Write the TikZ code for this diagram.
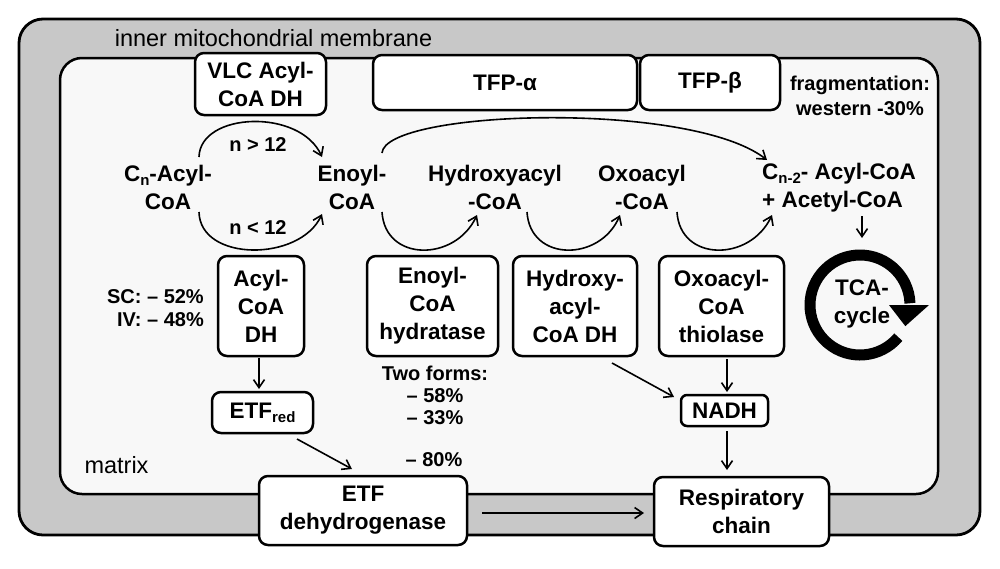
\documentclass[tikz,border=0pt]{standalone}
\usepackage{fontspec}
\setmainfont{Liberation Sans}
\usetikzlibrary{arrows.meta}
\definecolor{membr}{RGB}{200,200,200}
\definecolor{matrixbg}{RGB}{248,248,248}
\newcommand\sbs[1]{\raisebox{-0.35ex}{\fontsize{15}{15}\selectfont #1}}
\begin{document}
\begin{tikzpicture}[x=1pt,y=-1pt,
 lbl/.style={font=\bfseries\fontsize{22.5}{28}\selectfont, align=center, inner sep=0pt},
 note/.style={font=\bfseries\fontsize{20}{23}\selectfont, align=center, inner sep=0pt},
 plain/.style={font=\fontsize{23.5}{28}\selectfont, inner sep=0pt},
 box/.style={draw, line width=2.5pt, rounded corners=9pt, fill=white, align=center, inner sep=0pt, font=\bfseries\fontsize{22.5}{28}\selectfont},
 arr/.style={line width=1.6pt, -{Straight Barb[length=8pt,width=11pt]}},
]
\useasboundingbox (0,0) rectangle (1000,568);
\fill[white] (0,0) rectangle (1000,568);
% membrane and matrix
\draw[line width=2.8pt, fill=membr, rounded corners=24pt] (19,19) rectangle (980,535);
\draw[line width=2.5pt, fill=matrixbg, rounded corners=22pt] (60,58) rectangle (938,494);
\node[plain] (memb) at (273.5,38) {inner mitochondrial membrane};
\node[plain] (matrix) at (116.5,465) {matrix};

% top boxes
\node[box, minimum width=131pt, minimum height=62pt] (vlc) at (260.5,84) {VLC Acyl-\\CoA DH};
\node[box, minimum width=264pt, minimum height=55pt] (tfpa) at (505,82.5) {TFP-α};
\node[box, minimum width=140pt, minimum height=55pt] (tfpb) at (710,82.5) {TFP-β};
\node[note, font=\bfseries\fontsize{20}{25}\selectfont] (frag) at (860,96) {fragmentation:\\western -30\%};

% metabolites
\node[lbl] (cn) at (168,187.5) {C\sbs{n}-Acyl-\\CoA};
\node[lbl] (enoyl) at (352,187.5) {Enoyl-\\CoA};
\node[lbl] (hydroxy) at (495,187.5) {Hydroxyacyl\\-CoA};
\node[lbl] (oxo) at (642,187.5) {Oxoacyl\\-CoA};
\node[lbl, align=left, anchor=west] (cn2) at (762,187.5) {C\sbs{n-2}- Acyl-CoA\\+ Acetyl-CoA};
\node[note] (ngt) at (258,145) {n > 12};
\node[note] (nlt) at (258,228) {n < 12};

% arcs
\coordinate (t1s) at (199,157); \coordinate (t1e) at (322,157);
\coordinate (b1s) at (199,212); \coordinate (b1e) at (322,214);
\coordinate (bigs) at (382,153); \coordinate (bige) at (767,160);
\coordinate (s1s) at (382,212); \coordinate (s1e) at (477,215);
\coordinate (s2s) at (527,212); \coordinate (s2e) at (620,215);
\coordinate (s3s) at (677,212); \coordinate (s3e) at (772,215);
\draw[arr] (t1s) .. controls (200,112) and (300,108) .. (t1e);
\draw[arr] (b1s) .. controls (200,262) and (300,262) .. (b1e);
\draw[arr] (bigs) .. controls (385,110) and (690,100) .. (bige);
\draw[arr] (s1s) .. controls (385,262) and (455,262) .. (s1e);
\draw[arr] (s2s) .. controls (530,262) and (600,262) .. (s2e);
\draw[arr] (s3s) .. controls (680,262) and (750,262) .. (s3e);

% enzyme boxes
\node[box, minimum width=86pt, minimum height=100pt] (acyl) at (261,306) {Acyl-\\CoA\\DH};
\node[box, minimum width=131pt, minimum height=100pt] (hydr) at (432.5,306) {Enoyl-\\CoA\\hydratase};
\node[box, minimum width=124pt, minimum height=100pt] (hdh) at (575,306) {Hydroxy-\\acyl-\\CoA DH};
\node[box, minimum width=125pt, minimum height=100pt] (thio) at (721.5,306) {Oxoacyl-\\CoA\\thiolase};
\node[note, align=right, anchor=east] (scv) at (204,308.5) {SC: – 52\%\\IV: – 48\%};
\node[note, font=\bfseries\fontsize{20}{22}\selectfont] (twof) at (435,395) {Two forms:\\– 58\%\\– 33\%};
\node[note] (eighty) at (434,460) {– 80\%};

% TCA cycle
\begin{scope}[shift={(860,305)}, x=1pt, y=1pt]
 \draw[line width=11pt] (-40:50) arc[start angle=-40, end angle=-358, radius=50pt];
 \fill (29,0) -- (69,0) -- (-25:50) -- cycle;
\end{scope}
\node[lbl] (tca) at (862,304) {TCA-\\cycle};
\coordinate (cn2b) at (862,216); \coordinate (tcat) at (862,238);
\draw[arr] (cn2b) -- (tcat);

% lower boxes
\node[box, minimum width=101pt, minimum height=41pt] (etf) at (262.5,412.5) {ETF\sbs{red}};
\node[box, minimum width=87pt, minimum height=31pt, rounded corners=6pt] (nadh) at (724.5,410.5) {NADH};
\node[box, minimum width=208pt, minimum height=69pt] (etfdh) at (363,510.5) {ETF\\dehydrogenase};
\node[box, minimum width=175pt, minimum height=69pt] (resp) at (741.5,511.5) {Respiratory\\chain};

% straight connectors
\coordinate (a1) at (259,358); \coordinate (a2) at (259,389);
\draw[arr] (a1) -- (a2);
\coordinate (e1) at (297,439); \coordinate (e2) at (352,469);
\draw[arr] (e1) -- (e2);
\coordinate (r1) at (482,513); \coordinate (r2) at (644,513);
\draw[arr] (r1) -- (r2);
\coordinate (h1) at (612,363); \coordinate (h2) at (674,397);
\draw[arr] (h1) -- (h2);
\coordinate (o1) at (727,359); \coordinate (o2) at (727,392);
\draw[arr] (o1) -- (o2);
\coordinate (n1) at (727,431); \coordinate (n2) at (727,470);
\draw[arr] (n1) -- (n2);
\end{tikzpicture}
\end{document}
